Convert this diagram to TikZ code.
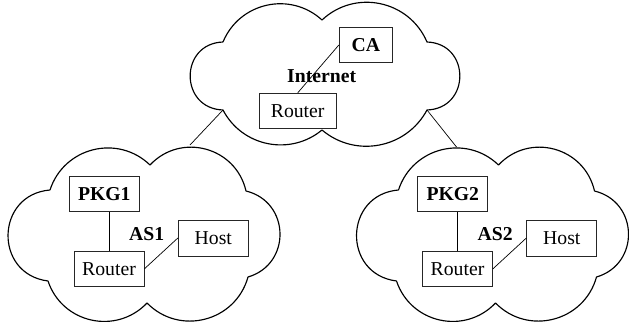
\documentclass[tikz,border=0pt]{standalone}
\usepackage{fontspec}
\setmainfont{Liberation Serif}
\usetikzlibrary{calc}

% A cloud lobe between two cusps: a circular-like arc whose tangent
% leaves the chord at #1 degrees, bulging to the left of travel.
\tikzset{
  cbump/.style={
    /utils/exec={\pgfmathsetmacro\lobek{2/3*tan(#1/2)/sin(#1)}},
    to path={.. controls ($(\tikztostart)!\lobek!#1:(\tikztotarget)$)
                and ($(\tikztotarget)!\lobek!-#1:(\tikztostart)$) .. (\tikztotarget)}},
  cloudline/.style={line width=1.15pt, line join=round},
  txt/.style={inner sep=0pt, font=\fontsize{19.7}{23}\selectfont},
  boldtxt/.style={inner sep=0pt, font=\fontsize{19.7}{23}\selectfont\bfseries},
  box/.style={draw=black!85, line width=0.9pt, minimum height=35pt, inner sep=0pt},
  link/.style={line width=0.7pt},
}

% One autonomous system: cloud, PKG box, router, host
\newcommand\asnet[4]{%
  \begin{scope}[shift={(#2,0)}]
    \coordinate (#1UL) at (50,190);
    \coordinate (#1TM) at (150,165);
    \coordinate (#1UR) at (246,191);
    \coordinate (#1LR) at (248,277);
    \coordinate (#1BM) at (147,303);
    \coordinate (#1LL) at (48,281);
    \coordinate (#1TLp) at (108,147);
    \coordinate (#1TRp) at (190,145);
    \draw[cloudline] (#1UL) to[cbump=58] (#1TM) to[cbump=62] (#1UR)
      to[cbump=75] (#1LR) to[cbump=60] (#1BM) to[cbump=59] (#1LL)
      to[cbump=84] (#1UL);
    \node[box, boldtxt, minimum width=70pt] (#1pkg) at (104.3,194.2) {#3};
    \node[box, txt, minimum width=70pt, minimum height=35.7pt] (#1router) at (109,268.8) {Router};
    \node[box, txt, minimum width=70pt, minimum height=36pt] (#1host) at (213.3,238) {Host};
    \node[boldtxt] (#1name) at (146.7,234.3) {#4};
    \draw[link] (#1router.north) -- (#1router.north |- #1pkg.south);
    \draw[link] (#1router.east) -- (#1host.west);
  \end{scope}}

\begin{document}
\begin{tikzpicture}[x=1pt, y=-1pt]
\useasboundingbox (0,0) rectangle (629,326);

% Internet cloud
\coordinate (iUL) at (223,42);
\coordinate (iTM) at (322,20);
\coordinate (iUR) at (427,42);
\coordinate (iLR) at (427,110);
\coordinate (iBM) at (322,130);
\coordinate (iLL) at (223,110);
\draw[cloudline] (iUL) to[cbump=55] (iTM) to[cbump=55] (iUR)
  to[cbump=88] (iLR) to[cbump=51] (iBM) to[cbump=51] (iLL)
  to[cbump=88] (iUL);
\node[box, boldtxt, minimum width=53pt] (ca) at (365.8,45) {CA};
\node[box, txt, minimum width=76.7pt] (irouter) at (297.7,110.8) {Router};
\node[boldtxt] (inet) at (321.7,76) {Internet};
\draw[link] (irouter.north) -- (ca.west);

% Two autonomous systems
\asnet{a}{0}{PKG1}{AS1}
\asnet{b}{348.5}{PKG2}{AS2}

% Links from the Internet to each AS
\draw[link] (iLL) -- (aTRp);
\draw[link] (iLR) -- (bTLp);
\end{tikzpicture}
\end{document}
